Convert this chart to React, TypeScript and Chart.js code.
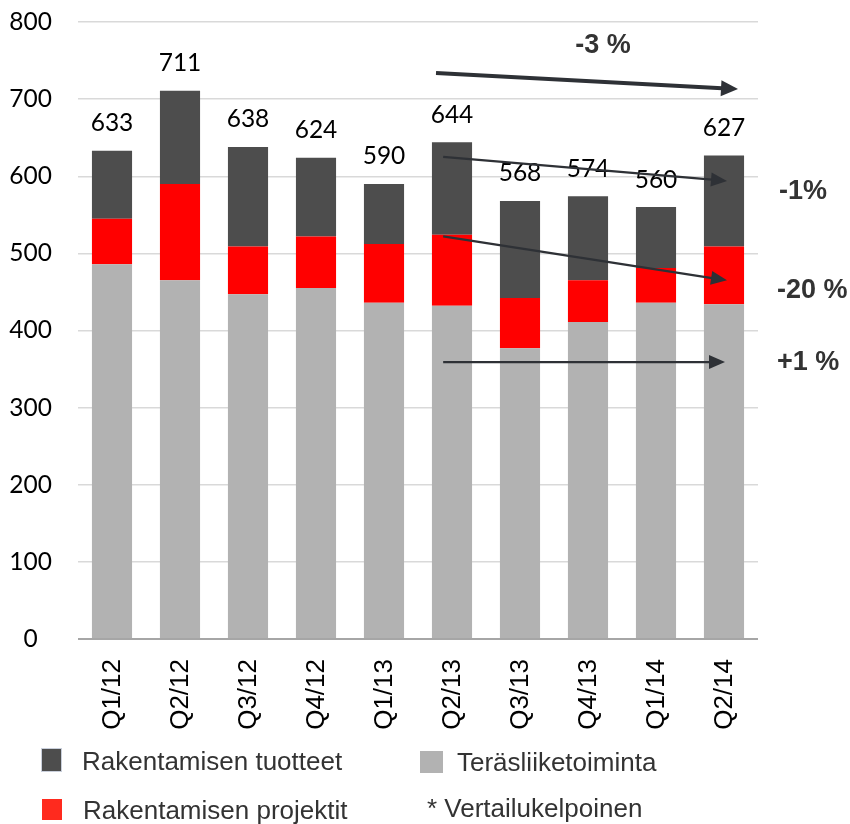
import React, { useEffect, useRef } from "react";
import { Chart, registerables } from "chart.js";

Chart.register(...registerables);

// ---- Data ----
const categories = ["Q1/12", "Q2/12", "Q3/12", "Q4/12", "Q1/13", "Q2/13", "Q3/13", "Q4/13", "Q1/14", "Q2/14"];
const terasliiketoiminta = [486, 465, 447, 455, 436, 432, 377, 411, 436, 434];
const rakentamisenProjektit = [59, 125, 62, 67, 76, 92, 65, 54, 45, 75];
const rakentamisenTuotteet = [88, 121, 129, 102, 78, 120, 126, 109, 79, 118];
const yMin = 0;
const yMax = 800;
const yStep = 100;

// Trend arrows: [categoryIndex, value] start and end
const trendArrowFrom = [[4.765, 734], [4.87, 625], [4.87, 522], [4.87, 359]];
const trendArrowTo = [[9.206, 713], [9.044, 594], [9.044, 465], [9.015, 359]];
const trendLabels = ["-3 %", "-1%", "-20 %", "+1 %"];
const trendLabelPos = [[7.22, 770], [9.81, 580], [9.78, 452], [9.78, 359]];

const legendItems = ["Rakentamisen tuotteet", "Teräsliiketoiminta", "Rakentamisen projektit", "* Vertailukelpoinen"];

const COLORS = {
  gray: "#b2b2b2",
  red: "#ff0000",
  dark: "#4d4d4d",
  arrow: "#2e3136",
  text: "#333333",
};

function drawArrow(ctx: CanvasRenderingContext2D, x1: number, y1: number, x2: number, y2: number, w: number, headLen: number, headHalf: number, color: string) {
  const ang = Math.atan2(y2 - y1, x2 - x1);
  const bx = x2 - headLen * Math.cos(ang);
  const by = y2 - headLen * Math.sin(ang);
  ctx.strokeStyle = color;
  ctx.lineWidth = w;
  ctx.lineCap = "butt";
  ctx.beginPath();
  ctx.moveTo(x1, y1);
  ctx.lineTo(bx + 1 * Math.cos(ang), by + 1 * Math.sin(ang));
  ctx.stroke();
  ctx.fillStyle = color;
  ctx.beginPath();
  ctx.moveTo(x2, y2);
  ctx.lineTo(bx + headHalf * Math.sin(ang), by - headHalf * Math.cos(ang));
  ctx.lineTo(bx - headHalf * Math.sin(ang), by + headHalf * Math.cos(ang));
  ctx.closePath();
  ctx.fill();
}

const overlayPlugin = {
  id: "overlay",
  afterDatasetsDraw(chart: any) {
    const ctx: CanvasRenderingContext2D = chart.ctx;
    const xs = chart.scales.x;
    const ys = chart.scales.y;
    ctx.save();

    // category labels (rotated)
    ctx.fillStyle = "#000";
    ctx.font = '26px "Liberation Sans", Arial, sans-serif';
    categories.forEach((c, i) => {
      const x = xs.getPixelForValue(i) + 1;
      ctx.save();
      ctx.translate(x, 659);
      ctx.rotate(-Math.PI / 2);
      ctx.textAlign = "right";
      ctx.textBaseline = "middle";
      ctx.fillText(c, 0, 0);
      ctx.restore();
    });

    // totals
    ctx.font = '24.5px Lato, "Open Sans", sans-serif';
    ctx.textAlign = "center";
    ctx.textBaseline = "alphabetic";
    ctx.fillStyle = "#000";
    categories.forEach((_, i) => {
      const total = terasliiketoiminta[i] + rakentamisenProjektit[i] + rakentamisenTuotteet[i];
      const x = xs.getPixelForValue(i);
      const y = ys.getPixelForValue(total) - 19.5;
      ctx.fillText(String(total), x, y);
    });

    // arrows
    trendArrowFrom.forEach((f, k) => {
      const t = trendArrowTo[k];
      const x1 = xs.getPixelForValue(f[0]);
      const y1 = ys.getPixelForValue(f[1]);
      const x2 = xs.getPixelForValue(t[0]);
      const y2 = ys.getPixelForValue(t[1]);
      if (k === 0) drawArrow(ctx, x1, y1, x2, y2, 4, 17, 8, COLORS.arrow);
      else drawArrow(ctx, x1, y1, x2, y2, 2.2, 16, 7, COLORS.arrow);
    });

    // trend labels
    ctx.font = 'bold 27px "Liberation Sans", Arial, sans-serif';
    ctx.fillStyle = COLORS.text;
    ctx.textBaseline = "middle";
    trendLabels.forEach((lab, k) => {
      const p = trendLabelPos[k];
      const x = xs.getPixelForValue(p[0]);
      const y = ys.getPixelForValue(p[1]);
      ctx.textAlign = k === 0 ? "center" : "left";
      ctx.fillText(lab, x, y);
    });

    // legend
    ctx.textAlign = "left";
    ctx.textBaseline = "alphabetic";
    ctx.font = '26px "Liberation Sans", Arial, sans-serif';
    ctx.fillStyle = COLORS.dark;
    ctx.fillRect(41, 748, 21, 24);
    ctx.strokeStyle = "#c9cfdb";
    ctx.lineWidth = 1;
    ctx.strokeRect(41.5, 748.5, 20, 23);
    ctx.fillStyle = COLORS.gray;
    ctx.fillRect(420, 751, 23, 22);
    ctx.fillStyle = "#ff2a1e";
    ctx.fillRect(42, 799, 20, 21);
    ctx.fillStyle = COLORS.text;
    ctx.fillText(legendItems[0], 82, 770);
    ctx.fillText(legendItems[1], 457, 771);
    ctx.fillText(legendItems[2], 83, 819);
    ctx.fillText(legendItems[3], 427, 817);

    ctx.restore();
  },
};

export default function App() {
  const ref = useRef<HTMLCanvasElement>(null);
  useEffect(() => {
    const canvas = ref.current!;
    const chart = new Chart(canvas, {
      type: "bar",
      data: {
        labels: categories,
        datasets: [
          { label: "Teräsliiketoiminta", data: terasliiketoiminta, backgroundColor: COLORS.gray, borderWidth: 0 },
          { label: "Rakentamisen projektit", data: rakentamisenProjektit, backgroundColor: COLORS.red, borderWidth: 0 },
          { label: "Rakentamisen tuotteet", data: rakentamisenTuotteet, backgroundColor: COLORS.dark, borderWidth: 0 },
        ],
      },
      options: {
        responsive: false,
        animation: false,
        layout: { padding: { left: 0, right: 92, top: 22, bottom: 0 } },
        plugins: { legend: { display: false }, tooltip: { enabled: false } },
        datasets: { bar: { categoryPercentage: 1, barPercentage: 0.59 } },
        scales: {
          x: {
            stacked: true,
            grid: { display: false },
            border: { display: false },
            ticks: { display: false },
            afterFit: (s: any) => {
              s.height = 185;
              s.paddingLeft = 0;
              s.paddingRight = 0;
            },
          },
          y: {
            stacked: true,
            min: yMin,
            max: yMax,
            ticks: {
              stepSize: yStep,
              padding: 26,
              crossAlign: "center",
              color: "#000",
              font: { family: 'Lato, "Open Sans", sans-serif', size: 24.5 },
            },
            grid: {
              drawTicks: false,
              color: (c: any) => (c.tick && c.tick.value === 0 ? "#a6a6a6" : "#d9d9d9"),
              lineWidth: (c: any) => (c.tick && c.tick.value === 0 ? 2 : 1.5),
            },
            border: { display: false },
            afterFit: (s: any) => {
              s.width = 78;
              s.paddingTop = 0;
              s.paddingBottom = 0;
            },
          },
        },
      } as any,
      plugins: [overlayPlugin],
    });
    return () => chart.destroy();
  }, []);
  return (
    <div style={{ position: "absolute", left: 0, top: 0, width: 850, height: 824, background: "#fff" }}>
      <canvas ref={ref} width={850} height={824} style={{ display: "block" }} />
    </div>
  );
}
